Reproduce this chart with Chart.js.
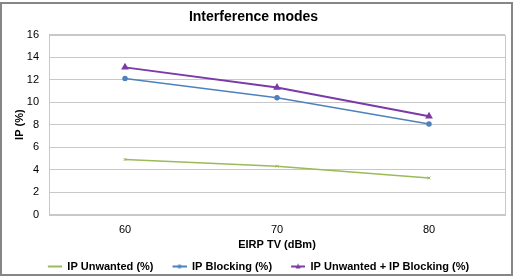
<!DOCTYPE html>
<html>
<head>
<meta charset="utf-8">
<script src="https://cdn.jsdelivr.net/npm/chart.js@4"></script>
<style>
    body { margin: 0; background: #fff; }
    #caixa {
        position: absolute; left: 0; top: 2px;
        width: 509px; height: 270px;
        border: 2px solid #868686;
        overflow: hidden;
    }
</style>
</head>
<body>
<div id="caixa">
    <canvas id="grafico" width="509" height="270"></canvas>
</div>
<script>
// Dados
var eirp = ['60', '70', '80']
var ipUnwanted = [4.9, 4.3, 3.25]
var ipBlocking = [12.1, 10.4, 8.05]
var ipTotal = [13.1, 11.3, 8.75]
var yTicks = [0, 2, 4, 6, 8, 10, 12, 14, 16]

var verde = '#9bbb59'
var azul = '#4f81bd'
var roxo = '#7b3aa8'

// Legenda: linha com marcador (espaço vazio à esquerda)
function iconeLegenda(cor, estilo) {
    let c = document.createElement('canvas')
    c.width = 24
    c.height = 8
    let ctx = c.getContext('2d')
    ctx.strokeStyle = cor
    ctx.fillStyle = cor
    ctx.lineWidth = 2
    ctx.beginPath()
    ctx.moveTo(10, 4)
    ctx.lineTo(24, 4)
    ctx.stroke()
    if (estilo == 'circle') {
        ctx.beginPath()
        ctx.arc(17, 4, 2, 0, Math.PI * 2)
        ctx.fill()
    } else if (estilo == 'triangle') {
        ctx.beginPath()
        ctx.moveTo(17, 1)
        ctx.lineTo(19.5, 6)
        ctx.lineTo(14.5, 6)
        ctx.closePath()
        ctx.fill()
    }
    return c
}

var bordaArea = {
    id: 'bordaArea',
    afterDraw(chart) {
        let a = chart.chartArea
        let ctx = chart.ctx
        ctx.save()
        ctx.strokeStyle = '#c8c8c8'
        ctx.lineWidth = 1
        ctx.strokeRect(Math.round(a.left) + 0.5, Math.round(a.top) + 0.5, Math.round(a.right - a.left), Math.round(a.bottom - a.top))
        ctx.restore()
    }
}

Chart.defaults.font.family = '"Liberation Sans", Arial, sans-serif'
Chart.defaults.color = '#000'

var ctx = document.getElementById('grafico').getContext('2d')
var chartConfig = new Chart(ctx, {
    type: 'line',
    data: {
        labels: eirp,
        datasets: [{
            label: 'IP Unwanted (%)',
            data: ipUnwanted,
            borderColor: verde,
            backgroundColor: verde,
            borderWidth: 1.5,
            pointStyle: 'crossRot',
            pointRadius: 2,
            pointBorderWidth: 1,
            legendIcon: iconeLegenda(verde, 'none')
        }, {
            label: 'IP Blocking (%)',
            data: ipBlocking,
            borderColor: azul,
            backgroundColor: azul,
            borderWidth: 1.5,
            pointStyle: 'circle',
            pointRadius: 2,
            legendIcon: iconeLegenda(azul, 'circle')
        }, {
            label: 'IP Unwanted + IP Blocking (%)',
            data: ipTotal,
            borderColor: roxo,
            backgroundColor: roxo,
            borderWidth: 2,
            pointStyle: 'triangle',
            pointRadius: 2.5,
            legendIcon: iconeLegenda(roxo, 'triangle')
        }]
    },
    options: {
        responsive: false,
        animation: false,
        layout: { padding: { left: 0, right: 6, top: 0, bottom: -8 } },
        plugins: {
            title: {
                display: true,
                text: 'Interference modes',
                font: { size: 14, weight: 'bold' },
                padding: { top: 5, bottom: 9 }
            },
            legend: {
                position: 'bottom',
                labels: {
                    font: { size: 11, weight: 'bold' },
                    usePointStyle: true,
                    pointStyleWidth: 24,
                    boxHeight: 8,
                    padding: 9,
                    generateLabels(chart) {
                        return chart.data.datasets.map((ds, i) => ({
                            text: ds.label,
                            pointStyle: ds.legendIcon,
                            fillStyle: ds.borderColor,
                            strokeStyle: ds.borderColor,
                            lineWidth: 0,
                            datasetIndex: i
                        }))
                    }
                }
            },
            tooltip: { enabled: false }
        },
        scales: {
            x: {
                offset: true,
                grid: { display: false, drawTicks: false },
                border: { display: false },
                ticks: { font: { size: 11 }, padding: 9 },
                title: {
                    display: true,
                    text: 'EIRP TV (dBm)',
                    font: { size: 11, weight: 'bold' },
                    padding: { top: 1, bottom: 0 }
                },
                afterFit(scale) {
                    scale.height = 37.5
                }
            },
            y: {
                min: 0,
                max: 16,
                afterBuildTicks(scale) {
                    scale.ticks = yTicks.map(v => ({ value: v }))
                },
                grid: { color: '#c8c8c8', drawTicks: false },
                border: { display: false },
                ticks: { font: { size: 11 }, padding: 10 },
                title: {
                    display: true,
                    text: 'IP (%)',
                    font: { size: 11, weight: 'bold' },
                    padding: { top: 11, bottom: 4 }
                },
                afterFit(scale) {
                    scale.width = 47
                }
            }
        }
    },
    plugins: [bordaArea]
});
</script>
</body>
</html>
